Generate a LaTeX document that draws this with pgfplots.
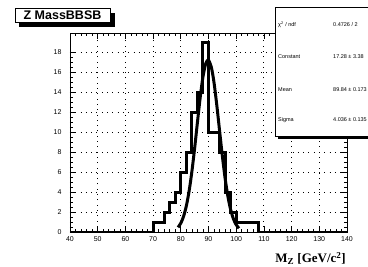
\documentclass[border=0pt]{standalone}
\usepackage{pgfplots}
\pgfplotsset{compat=1.18}
\usepackage{fontspec}
\setmainfont{Liberation Sans}
\newfontfamily\serifface{Liberation Serif}
\begin{document}
\begin{tikzpicture}[x=1pt,y=1pt]
\useasboundingbox (0,0) rectangle (368,266);
\clip (0,0) rectangle (368,266);
\begin{axis}[
  at={(70pt,34pt)}, anchor=south west,
  scale only axis, width=277pt, height=199pt,
  xmin=40, xmax=140, ymin=0, ymax=19.95,
  xtick={40,50,...,140}, ytick={0,2,...,18},
  minor x tick num=4, minor y tick num=3,
  tick align=inside,
  major tick length=6pt, minor tick length=3pt,
  tick style={black, line width=0.6pt},
  grid=major,
  major grid style={black, line width=0.9pt, dash pattern=on 0.9pt off 4.4pt},
  axis line style={line width=0.8pt},
  /pgf/number format/assume math mode=true,
  ticklabel style={font=\fontsize{7}{8}\selectfont},
  yticklabel style={xshift=-5pt},
  xticklabel style={yshift=-1pt},
  xlabel={M\textsubscript{Z} [GeV/c\textsuperscript{2}]},
  xlabel style={at={(rel axis cs:1,0)}, anchor=north east, yshift=-19pt, inner sep=1pt,
    font=\serifface\bfseries\fontsize{13}{14}\selectfont},
]
\addplot[black, line width=3pt, const plot, line join=miter] coordinates {
(40,0) (70,1) (72,1) (74,2) (76,3) (78,4) (80,6) (82,8) (84,12) (86,14)
(88,19) (90,10) (92,10) (94,8) (96,4) (98,2) (100,1) (102,1) (104,1)
(106,1) (108,0) (140,0)};
\addplot[black, line width=3pt, smooth] coordinates {
(79,0.468) (80,0.884) (81,1.567) (82,2.616) (83,4.106) (84,6.058) (85,8.409)
(86,10.98) (87,13.47) (88,15.56) (89,16.89) (89.84,17.26) (90,17.25)
(91,16.56) (92,14.96) (93,12.70) (94,10.15) (95,7.622) (96,5.385)
(97,3.578) (98,2.235) (99,1.314) (100,0.726) (101,0.378)};
\end{axis}
% title box
\fill[black] (19,239) rectangle (115,253);
\draw[fill=white, line width=0.8pt] (15,244) rectangle (110,258);
\node[font=\bfseries\fontsize{12.5}{13}\selectfont, inner sep=0pt] at (62.5,251) {Z MassBBSB};
% stats box
\fill[black] (278,127) rectangle (385,256);
\draw[fill=white, line width=0.8pt] (275,130) rectangle (380,259);
\begin{scope}[every node/.style={font=\fontsize{5.5}{6}\selectfont, inner sep=0pt}]
\node[anchor=west] at (278,241) {χ\textsuperscript{2} / ndf};
\node[anchor=west] at (333,241) {0.4726 / 2};
\node[anchor=west] at (278,209) {Constant};
\node[anchor=west] at (333,209) {17.28 ± 3.38};
\node[anchor=west] at (278,176) {Mean};
\node[anchor=west] at (333,176) {89.84 ± 0.173};
\node[anchor=west] at (278,146) {Sigma};
\node[anchor=west] at (333,146) {4.036 ± 0.135};
\end{scope}
\end{tikzpicture}
\end{document}
